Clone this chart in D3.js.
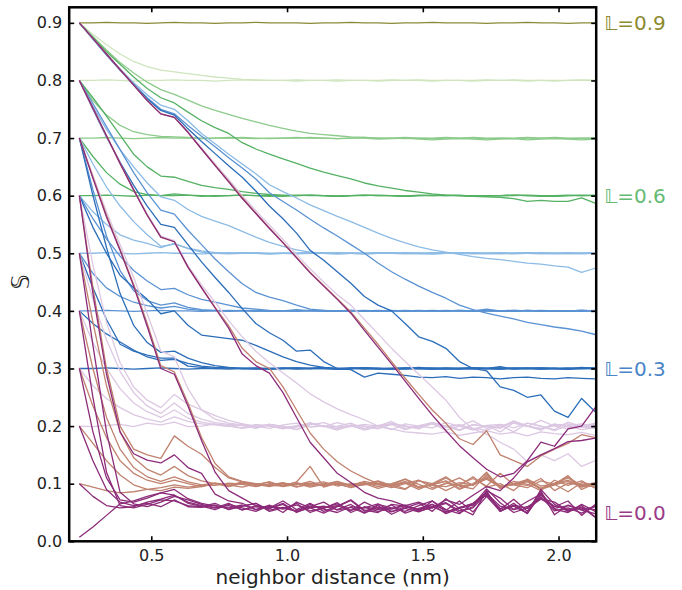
<!DOCTYPE html>
<html>
<head>
<meta charset="utf-8">
<script src="https://cdn.jsdelivr.net/npm/d3@7"></script>
<style>
  body { margin: 0; background: #fff; }
</style>
</head>
<body>
<div id="chart"></div>
<script>
// neighbor distance grid (nm)
var dist = [0.235,0.285,0.335,0.385,0.435,0.485,0.535,0.585,0.635,0.685,
  0.735,0.785,0.835,0.885,0.935,0.985,1.035,1.085,1.135,1.185,
  1.235,1.285,1.335,1.385,1.435,1.485,1.535,1.585,1.635,1.685,
  1.735,1.785,1.835,1.885,1.935,1.985,2.035,2.085,2.135]

// S curves, one group per level L; inside a group one curve per start value (highest start first)
var lev90 = [
  [0.900,0.900,0.901,0.900,0.900,0.899,0.900,0.901,0.900,0.900,0.899,0.900,0.900,0.901,0.900,0.900,0.900,0.899,0.900,0.900,0.901,0.900,0.900,0.899,0.900,0.900,0.901,0.900,0.900,0.900,0.899,0.900,0.900,0.901,0.900,0.900,0.899,0.900,0.900]
]
var lev80 = [
  [0.900,0.880,0.862,0.846,0.833,0.824,0.818,0.815,0.812,0.809,0.806,0.804,0.802,0.801,0.800,0.800,0.801,0.800,0.800,0.799,0.800,0.800,0.800,0.801,0.800,0.800,0.799,0.800,0.800,0.800,0.801,0.800,0.800,0.799,0.800,0.800,0.800,0.801,0.800],
  [0.800,0.800,0.801,0.800,0.799,0.800,0.800,0.801,0.800,0.800,0.799,0.800,0.801,0.800,0.800,0.800,0.799,0.800,0.800,0.801,0.800,0.800,0.799,0.800,0.800,0.801,0.800,0.800,0.800,0.799,0.800,0.800,0.801,0.800,0.800,0.799,0.800,0.800,0.800]
]
var lev70 = [
  [0.900,0.876,0.853,0.831,0.813,0.797,0.784,0.776,0.766,0.756,0.748,0.741,0.734,0.728,0.722,0.717,0.712,0.708,0.706,0.704,0.702,0.701,0.700,0.700,0.701,0.700,0.699,0.700,0.700,0.701,0.700,0.700,0.699,0.700,0.700,0.701,0.700,0.700,0.700],
  [0.800,0.765,0.740,0.722,0.711,0.706,0.703,0.702,0.701,0.700,0.700,0.701,0.700,0.699,0.700,0.700,0.701,0.700,0.700,0.699,0.700,0.701,0.700,0.700,0.699,0.700,0.700,0.701,0.700,0.700,0.699,0.700,0.700,0.701,0.700,0.700,0.699,0.700,0.700],
  [0.700,0.700,0.701,0.700,0.699,0.700,0.701,0.700,0.700,0.699,0.700,0.700,0.701,0.700,0.699,0.700,0.700,0.701,0.700,0.699,0.700,0.700,0.698,0.699,0.700,0.698,0.697,0.698,0.699,0.698,0.697,0.698,0.699,0.697,0.698,0.699,0.698,0.697,0.698]
]
var lev60 = [
  [0.900,0.875,0.850,0.828,0.806,0.786,0.770,0.761,0.745,0.730,0.718,0.708,0.692,0.681,0.672,0.664,0.656,0.648,0.641,0.635,0.629,0.622,0.617,0.613,0.609,0.606,0.603,0.601,0.600,0.599,0.598,0.597,0.595,0.590,0.592,0.590,0.590,0.596,0.587],
  [0.800,0.770,0.738,0.705,0.672,0.650,0.634,0.632,0.625,0.618,0.614,0.611,0.607,0.604,0.602,0.601,0.600,0.601,0.600,0.599,0.600,0.601,0.600,0.600,0.599,0.600,0.601,0.600,0.600,0.599,0.600,0.600,0.601,0.600,0.600,0.599,0.600,0.601,0.600],
  [0.700,0.668,0.640,0.620,0.607,0.602,0.600,0.603,0.601,0.600,0.599,0.600,0.601,0.600,0.600,0.599,0.600,0.601,0.600,0.599,0.600,0.600,0.601,0.600,0.599,0.600,0.600,0.601,0.600,0.600,0.599,0.600,0.600,0.601,0.600,0.599,0.600,0.600,0.601],
  [0.600,0.600,0.601,0.600,0.599,0.601,0.600,0.600,0.601,0.599,0.600,0.600,0.601,0.600,0.599,0.600,0.601,0.600,0.600,0.599,0.600,0.601,0.600,0.600,0.599,0.601,0.600,0.600,0.601,0.599,0.600,0.600,0.601,0.600,0.599,0.600,0.601,0.600,0.600]
]
var lev50 = [
  [0.900,0.872,0.845,0.820,0.796,0.775,0.757,0.750,0.730,0.708,0.690,0.672,0.655,0.638,0.619,0.607,0.596,0.584,0.574,0.564,0.555,0.545,0.535,0.526,0.518,0.511,0.506,0.502,0.498,0.494,0.491,0.489,0.486,0.483,0.481,0.478,0.476,0.467,0.474],
  [0.800,0.755,0.715,0.680,0.650,0.622,0.598,0.592,0.576,0.564,0.556,0.548,0.538,0.528,0.519,0.512,0.506,0.502,0.500,0.501,0.500,0.499,0.500,0.501,0.500,0.500,0.499,0.500,0.501,0.500,0.500,0.499,0.500,0.501,0.500,0.500,0.499,0.500,0.500],
  [0.700,0.655,0.615,0.582,0.555,0.532,0.512,0.516,0.509,0.504,0.501,0.500,0.501,0.500,0.499,0.500,0.500,0.501,0.500,0.499,0.500,0.500,0.501,0.500,0.500,0.499,0.500,0.501,0.500,0.500,0.499,0.500,0.500,0.501,0.500,0.499,0.500,0.500,0.501],
  [0.600,0.572,0.550,0.532,0.523,0.517,0.510,0.517,0.508,0.502,0.500,0.499,0.500,0.501,0.500,0.500,0.499,0.500,0.501,0.500,0.500,0.499,0.500,0.500,0.501,0.500,0.499,0.500,0.500,0.501,0.500,0.500,0.499,0.500,0.501,0.500,0.500,0.499,0.500],
  [0.500,0.500,0.501,0.500,0.499,0.500,0.501,0.500,0.500,0.499,0.500,0.501,0.500,0.500,0.499,0.500,0.500,0.501,0.500,0.499,0.500,0.500,0.501,0.500,0.499,0.500,0.501,0.500,0.500,0.499,0.500,0.501,0.500,0.500,0.499,0.500,0.501,0.500,0.500]
]
var lev40 = [
  [0.900,0.872,0.844,0.818,0.793,0.770,0.750,0.742,0.722,0.703,0.685,0.666,0.648,0.629,0.605,0.590,0.575,0.559,0.544,0.530,0.515,0.500,0.483,0.468,0.455,0.443,0.432,0.422,0.410,0.402,0.396,0.391,0.386,0.380,0.376,0.372,0.369,0.365,0.359],
  [0.800,0.760,0.720,0.680,0.640,0.605,0.575,0.568,0.540,0.515,0.490,0.468,0.447,0.432,0.424,0.418,0.410,0.403,0.401,0.400,0.401,0.400,0.399,0.400,0.400,0.401,0.400,0.399,0.400,0.400,0.401,0.400,0.399,0.400,0.401,0.400,0.400,0.399,0.400],
  [0.700,0.610,0.530,0.470,0.435,0.418,0.410,0.414,0.406,0.402,0.401,0.400,0.401,0.400,0.399,0.400,0.400,0.401,0.400,0.399,0.400,0.400,0.401,0.400,0.399,0.400,0.400,0.401,0.400,0.399,0.400,0.400,0.401,0.400,0.400,0.399,0.400,0.401,0.400],
  [0.600,0.560,0.525,0.495,0.470,0.452,0.437,0.439,0.428,0.420,0.415,0.410,0.405,0.403,0.401,0.400,0.400,0.401,0.400,0.399,0.400,0.401,0.400,0.400,0.399,0.400,0.401,0.400,0.400,0.399,0.400,0.400,0.401,0.400,0.399,0.400,0.400,0.401,0.400],
  [0.500,0.465,0.440,0.425,0.415,0.409,0.405,0.408,0.403,0.401,0.400,0.399,0.400,0.401,0.400,0.400,0.399,0.400,0.401,0.400,0.400,0.399,0.400,0.401,0.400,0.400,0.399,0.400,0.401,0.400,0.400,0.399,0.400,0.401,0.400,0.400,0.399,0.400,0.401],
  [0.400,0.400,0.401,0.400,0.399,0.400,0.401,0.400,0.400,0.399,0.400,0.401,0.400,0.399,0.400,0.400,0.402,0.400,0.399,0.400,0.401,0.400,0.399,0.400,0.401,0.400,0.399,0.400,0.401,0.400,0.403,0.400,0.399,0.401,0.400,0.399,0.400,0.401,0.400]
]
var lev30 = [
  [0.900,0.873,0.845,0.818,0.793,0.768,0.748,0.740,0.716,0.694,0.673,0.652,0.632,0.608,0.582,0.560,0.535,0.505,0.488,0.468,0.448,0.425,0.410,0.400,0.378,0.355,0.347,0.335,0.312,0.300,0.296,0.268,0.262,0.250,0.254,0.226,0.215,0.248,0.225],
  [0.800,0.750,0.702,0.658,0.618,0.582,0.550,0.545,0.515,0.485,0.458,0.432,0.404,0.378,0.362,0.349,0.330,0.332,0.312,0.300,0.298,0.285,0.292,0.290,0.288,0.285,0.284,0.286,0.283,0.285,0.284,0.282,0.284,0.285,0.283,0.282,0.284,0.283,0.282],
  [0.700,0.600,0.510,0.430,0.375,0.345,0.328,0.330,0.318,0.310,0.305,0.302,0.300,0.300,0.299,0.300,0.301,0.300,0.300,0.299,0.300,0.301,0.300,0.299,0.300,0.300,0.301,0.300,0.299,0.300,0.300,0.301,0.300,0.300,0.299,0.300,0.301,0.300,0.300],
  [0.600,0.545,0.500,0.462,0.440,0.420,0.395,0.400,0.375,0.358,0.355,0.352,0.349,0.340,0.330,0.320,0.312,0.306,0.302,0.300,0.301,0.300,0.299,0.300,0.301,0.300,0.299,0.300,0.300,0.301,0.300,0.299,0.300,0.301,0.300,0.300,0.299,0.300,0.301],
  [0.500,0.440,0.385,0.342,0.330,0.323,0.318,0.318,0.304,0.302,0.300,0.299,0.300,0.301,0.300,0.300,0.299,0.300,0.301,0.300,0.300,0.299,0.300,0.300,0.301,0.300,0.299,0.300,0.300,0.301,0.300,0.299,0.300,0.300,0.301,0.300,0.299,0.300,0.300],
  [0.400,0.378,0.360,0.346,0.332,0.320,0.314,0.316,0.309,0.304,0.302,0.301,0.300,0.300,0.299,0.300,0.301,0.300,0.300,0.299,0.300,0.301,0.300,0.300,0.299,0.300,0.300,0.301,0.300,0.299,0.300,0.300,0.301,0.300,0.299,0.300,0.300,0.301,0.300],
  [0.300,0.300,0.301,0.300,0.299,0.300,0.301,0.300,0.299,0.300,0.300,0.301,0.300,0.299,0.300,0.301,0.300,0.300,0.302,0.299,0.300,0.301,0.300,0.299,0.300,0.302,0.300,0.299,0.300,0.301,0.300,0.303,0.299,0.300,0.301,0.300,0.299,0.302,0.300]
]
var lev20 = [
  [0.900,0.873,0.846,0.819,0.792,0.765,0.742,0.736,0.711,0.683,0.655,0.628,0.600,0.574,0.549,0.524,0.498,0.473,0.450,0.428,0.410,0.385,0.360,0.335,0.312,0.290,0.268,0.245,0.215,0.195,0.186,0.172,0.160,0.138,0.150,0.140,0.152,0.130,0.140],
  [0.800,0.752,0.704,0.656,0.610,0.568,0.530,0.522,0.478,0.445,0.415,0.383,0.355,0.330,0.310,0.292,0.275,0.256,0.242,0.230,0.220,0.211,0.200,0.195,0.190,0.188,0.186,0.190,0.184,0.188,0.192,0.186,0.189,0.183,0.190,0.187,0.185,0.189,0.184],
  [0.700,0.635,0.572,0.515,0.458,0.395,0.330,0.320,0.265,0.228,0.212,0.205,0.202,0.196,0.203,0.199,0.194,0.206,0.199,0.200,0.205,0.195,0.200,0.208,0.196,0.200,0.204,0.193,0.200,0.209,0.196,0.202,0.190,0.205,0.200,0.194,0.207,0.199,0.196],
  [0.600,0.480,0.380,0.310,0.268,0.245,0.232,0.255,0.238,0.228,0.218,0.210,0.204,0.199,0.201,0.196,0.198,0.205,0.200,0.193,0.202,0.200,0.196,0.204,0.200,0.195,0.206,0.200,0.192,0.203,0.199,0.196,0.208,0.200,0.193,0.204,0.198,0.200,0.205],
  [0.500,0.420,0.350,0.295,0.258,0.235,0.222,0.240,0.222,0.212,0.206,0.203,0.201,0.197,0.203,0.200,0.194,0.202,0.206,0.198,0.201,0.193,0.199,0.205,0.200,0.196,0.204,0.198,0.202,0.195,0.201,0.190,0.206,0.200,0.196,0.203,0.200,0.194,0.198],
  [0.400,0.345,0.300,0.265,0.240,0.225,0.215,0.228,0.214,0.207,0.203,0.201,0.197,0.203,0.200,0.195,0.201,0.204,0.199,0.206,0.200,0.196,0.201,0.203,0.194,0.201,0.206,0.199,0.202,0.196,0.193,0.201,0.205,0.199,0.210,0.200,0.195,0.201,0.203],
  [0.300,0.270,0.248,0.232,0.220,0.212,0.207,0.216,0.208,0.204,0.202,0.199,0.204,0.200,0.196,0.202,0.205,0.198,0.201,0.195,0.199,0.203,0.200,0.194,0.204,0.200,0.197,0.206,0.200,0.193,0.201,0.203,0.197,0.205,0.200,0.192,0.201,0.204,0.198],
  [0.200,0.199,0.201,0.203,0.199,0.205,0.202,0.207,0.199,0.200,0.204,0.200,0.196,0.200,0.203,0.198,0.200,0.205,0.200,0.196,0.201,0.200,0.195,0.203,0.200,0.197,0.206,0.200,0.194,0.202,0.200,0.198,0.209,0.200,0.195,0.201,0.204,0.198,0.201]
]
var lev10 = [
  [0.900,0.873,0.846,0.819,0.792,0.765,0.742,0.736,0.710,0.681,0.653,0.625,0.597,0.570,0.544,0.519,0.493,0.467,0.444,0.421,0.398,0.370,0.342,0.312,0.283,0.255,0.228,0.205,0.178,0.168,0.192,0.150,0.140,0.130,0.148,0.160,0.170,0.185,0.180],
  [0.800,0.752,0.704,0.656,0.610,0.566,0.528,0.520,0.476,0.441,0.406,0.374,0.335,0.312,0.300,0.268,0.228,0.188,0.160,0.138,0.122,0.110,0.100,0.096,0.102,0.094,0.098,0.105,0.092,0.099,0.110,0.095,0.100,0.105,0.092,0.098,0.112,0.096,0.101],
  [0.700,0.632,0.566,0.507,0.446,0.378,0.305,0.294,0.240,0.180,0.135,0.112,0.104,0.100,0.097,0.096,0.103,0.130,0.094,0.101,0.097,0.104,0.099,0.093,0.100,0.106,0.097,0.095,0.102,0.098,0.108,0.094,0.099,0.103,0.091,0.100,0.106,0.097,0.102],
  [0.600,0.440,0.300,0.200,0.160,0.150,0.144,0.183,0.165,0.151,0.128,0.110,0.103,0.099,0.095,0.101,0.098,0.104,0.096,0.100,0.093,0.099,0.105,0.097,0.101,0.090,0.100,0.112,0.096,0.099,0.118,0.092,0.100,0.097,0.109,0.088,0.101,0.099,0.094],
  [0.500,0.380,0.270,0.190,0.145,0.125,0.115,0.130,0.114,0.105,0.100,0.095,0.101,0.098,0.103,0.096,0.100,0.094,0.099,0.104,0.097,0.100,0.092,0.098,0.108,0.099,0.090,0.101,0.097,0.112,0.094,0.100,0.088,0.108,0.096,0.099,0.114,0.090,0.100],
  [0.400,0.300,0.215,0.160,0.128,0.112,0.104,0.112,0.103,0.098,0.101,0.098,0.094,0.100,0.097,0.102,0.095,0.099,0.103,0.096,0.100,0.098,0.104,0.095,0.090,0.106,0.093,0.100,0.110,0.097,0.120,0.092,0.104,0.099,0.088,0.106,0.097,0.105,0.092],
  [0.300,0.235,0.180,0.140,0.118,0.106,0.100,0.106,0.100,0.095,0.100,0.097,0.103,0.096,0.099,0.101,0.094,0.100,0.098,0.103,0.096,0.099,0.101,0.097,0.104,0.093,0.098,0.110,0.096,0.091,0.115,0.095,0.100,0.107,0.090,0.098,0.104,0.094,0.099],
  [0.200,0.170,0.140,0.115,0.098,0.090,0.088,0.094,0.092,0.095,0.101,0.096,0.100,0.098,0.103,0.095,0.099,0.101,0.096,0.100,0.098,0.102,0.095,0.099,0.091,0.105,0.100,0.088,0.099,0.109,0.096,0.118,0.098,0.093,0.105,0.099,0.086,0.102,0.097],
  [0.100,0.094,0.088,0.084,0.086,0.090,0.093,0.098,0.094,0.097,0.097,0.101,0.099,0.095,0.100,0.098,0.102,0.096,0.100,0.099,0.094,0.101,0.098,0.100,0.108,0.094,0.099,0.104,0.090,0.100,0.112,0.096,0.098,0.106,0.092,0.101,0.110,0.095,0.100]
]
var lev00 = [
  [0.900,0.873,0.846,0.819,0.792,0.765,0.742,0.736,0.710,0.681,0.652,0.624,0.595,0.569,0.543,0.518,0.492,0.466,0.443,0.420,0.396,0.366,0.337,0.308,0.278,0.248,0.219,0.192,0.166,0.145,0.125,0.112,0.118,0.140,0.172,0.165,0.195,0.200,0.232],
  [0.800,0.752,0.704,0.656,0.610,0.566,0.528,0.520,0.476,0.440,0.405,0.370,0.325,0.305,0.292,0.258,0.215,0.172,0.145,0.118,0.102,0.085,0.075,0.070,0.062,0.068,0.058,0.072,0.064,0.080,0.095,0.088,0.110,0.138,0.150,0.161,0.173,0.175,0.179],
  [0.700,0.630,0.563,0.505,0.443,0.373,0.300,0.290,0.235,0.175,0.120,0.088,0.075,0.062,0.058,0.070,0.055,0.066,0.052,0.061,0.072,0.054,0.050,0.064,0.061,0.052,0.070,0.055,0.048,0.066,0.085,0.053,0.062,0.049,0.080,0.060,0.070,0.045,0.064],
  [0.600,0.430,0.290,0.190,0.152,0.141,0.136,0.150,0.128,0.118,0.082,0.070,0.066,0.055,0.063,0.050,0.068,0.058,0.049,0.060,0.071,0.052,0.062,0.047,0.058,0.066,0.052,0.074,0.057,0.046,0.088,0.075,0.055,0.060,0.074,0.068,0.053,0.062,0.042],
  [0.500,0.340,0.190,0.085,0.065,0.060,0.068,0.078,0.072,0.064,0.058,0.066,0.054,0.062,0.057,0.066,0.050,0.060,0.068,0.054,0.059,0.049,0.064,0.058,0.052,0.062,0.070,0.051,0.059,0.065,0.082,0.055,0.073,0.052,0.087,0.046,0.063,0.055,0.060],
  [0.400,0.250,0.120,0.062,0.058,0.064,0.072,0.070,0.062,0.060,0.066,0.055,0.061,0.066,0.052,0.058,0.063,0.053,0.057,0.067,0.050,0.060,0.055,0.063,0.049,0.057,0.064,0.054,0.070,0.051,0.078,0.052,0.066,0.048,0.084,0.056,0.050,0.064,0.052],
  [0.300,0.190,0.110,0.072,0.068,0.075,0.084,0.080,0.066,0.061,0.055,0.064,0.058,0.052,0.062,0.056,0.066,0.050,0.058,0.062,0.053,0.068,0.057,0.051,0.060,0.055,0.064,0.048,0.057,0.063,0.091,0.067,0.050,0.058,0.077,0.053,0.058,0.049,0.061],
  [0.200,0.140,0.090,0.068,0.062,0.066,0.060,0.072,0.060,0.059,0.063,0.056,0.061,0.066,0.054,0.059,0.052,0.064,0.056,0.050,0.060,0.058,0.065,0.052,0.057,0.051,0.060,0.067,0.053,0.058,0.083,0.061,0.055,0.069,0.082,0.057,0.062,0.054,0.048],
  [0.100,0.078,0.062,0.058,0.060,0.068,0.073,0.080,0.068,0.062,0.058,0.062,0.055,0.060,0.057,0.064,0.051,0.058,0.061,0.055,0.064,0.049,0.059,0.056,0.062,0.053,0.058,0.066,0.050,0.060,0.087,0.052,0.063,0.057,0.073,0.061,0.055,0.059,0.042],
  [0.007,0.025,0.045,0.065,0.070,0.078,0.084,0.090,0.074,0.066,0.061,0.058,0.063,0.055,0.060,0.057,0.053,0.061,0.058,0.065,0.054,0.059,0.052,0.057,0.063,0.055,0.060,0.050,0.058,0.066,0.080,0.057,0.061,0.049,0.090,0.064,0.052,0.058,0.055]
]

var levelSeries = [lev90, lev80, lev70, lev60, lev50, lev40, lev30, lev20, lev10, lev00]
var levelColors = ["#8b8a38", "#cfe5bd", "#8ccb8a", "#55b163", "#8cbbe6", "#5a92d3", "#2b6db9", "#dcc8e3", "#c0826f", "#8c2b79"]

var xTicks = [0.5, 1.0, 1.5, 2.0]
var yTicks = [0.0, 0.1, 0.2, 0.3, 0.4, 0.5, 0.6, 0.7, 0.8, 0.9]

var endLabels = ["\u{1D543}=0.9", "\u{1D543}=0.6", "\u{1D543}=0.3", "\u{1D543}=0.0"]
var endLabelY = [0.9, 0.6, 0.3, 0.05]
var endLabelColors = ["#8c8a2f", "#66bb74", "#4a85c8", "#9a3b88"]

var width = 682, height = 590
var margin = {top: 7.3, right: 85.8, bottom: 48.7, left: 69.2}

var x = d3.scaleLinear()
  .domain([0.1976, 2.1387])
  .range([margin.left, width - margin.right])
var y = d3.scaleLinear()
  .domain([0, 0.927])
  .range([height - margin.bottom, margin.top])

var svg = d3.select("#chart")
  .append("svg")
  .attr("width", width)
  .attr("height", height)
  .style("font-family", "'DejaVu Sans', sans-serif")

var drawLine = d3.line()
  .x((d, i) => x(dist[i]))
  .y(d => y(d))

levelSeries.forEach(function(group, j) {
  svg.append("g")
    .attr("fill", "none")
    .attr("stroke", levelColors[j])
    .attr("stroke-width", 1.3)
    .attr("stroke-linejoin", "round")
    .selectAll("path")
    .data(group)
    .join("path")
      .attr("d", drawLine)
})

// axes: ticks point inward on all four sides
function styleAxis(g) {
  g.select(".domain").remove()
  g.selectAll(".tick line").attr("stroke", "#000").attr("stroke-width", 1.6)
  g.selectAll(".tick text")
    .attr("fill", "#222")
    .style("font-size", "16px")
    .style("font-family", "'DejaVu Sans', sans-serif")
}

svg.append("g")
  .attr("transform", `translate(0,${height - margin.bottom})`)
  .call(d3.axisBottom(x).tickValues(xTicks).tickFormat(d3.format(".1f"))
    .tickSizeInner(-5).tickSizeOuter(0).tickPadding(8))
  .call(styleAxis)

svg.append("g")
  .attr("transform", `translate(0,${margin.top})`)
  .call(d3.axisTop(x).tickValues(xTicks).tickFormat("")
    .tickSizeInner(-5).tickSizeOuter(0))
  .call(styleAxis)

svg.append("g")
  .attr("transform", `translate(${margin.left},0)`)
  .call(d3.axisLeft(y).tickValues(yTicks).tickFormat(d3.format(".1f"))
    .tickSizeInner(-5).tickSizeOuter(0).tickPadding(7))
  .call(styleAxis)

svg.append("g")
  .attr("transform", `translate(${width - margin.right},0)`)
  .call(d3.axisRight(y).tickValues(yTicks).tickFormat("")
    .tickSizeInner(-5).tickSizeOuter(0))
  .call(styleAxis)

// frame
svg.append("rect")
  .attr("x", margin.left)
  .attr("y", margin.top)
  .attr("width", width - margin.left - margin.right)
  .attr("height", height - margin.top - margin.bottom)
  .attr("fill", "none")
  .attr("stroke", "#000")
  .attr("stroke-width", 2.5)

// axis titles
svg.append("text")
  .attr("x", (margin.left + width - margin.right) / 2)
  .attr("y", 583.5)
  .attr("text-anchor", "middle")
  .style("font-size", "20px")
  .attr("fill", "#222")
  .text("neighbor distance (nm)")

svg.append("text")
  .attr("transform", "translate(29,282) rotate(-90)")
  .attr("text-anchor", "middle")
  .style("font-size", "24px")
  .attr("fill", "#222")
  .text("\u{1D54A}")

// level labels on the right
svg.append("g")
  .selectAll("text")
  .data(endLabels)
  .join("text")
    .attr("x", width - margin.right + 8)
    .attr("y", (d, i) => y(endLabelY[i]))
    .attr("dy", "0.36em")
    .attr("fill", (d, i) => endLabelColors[i])
    .style("font-size", "20px")
    .text(d => d)
</script>
</body>
</html>
